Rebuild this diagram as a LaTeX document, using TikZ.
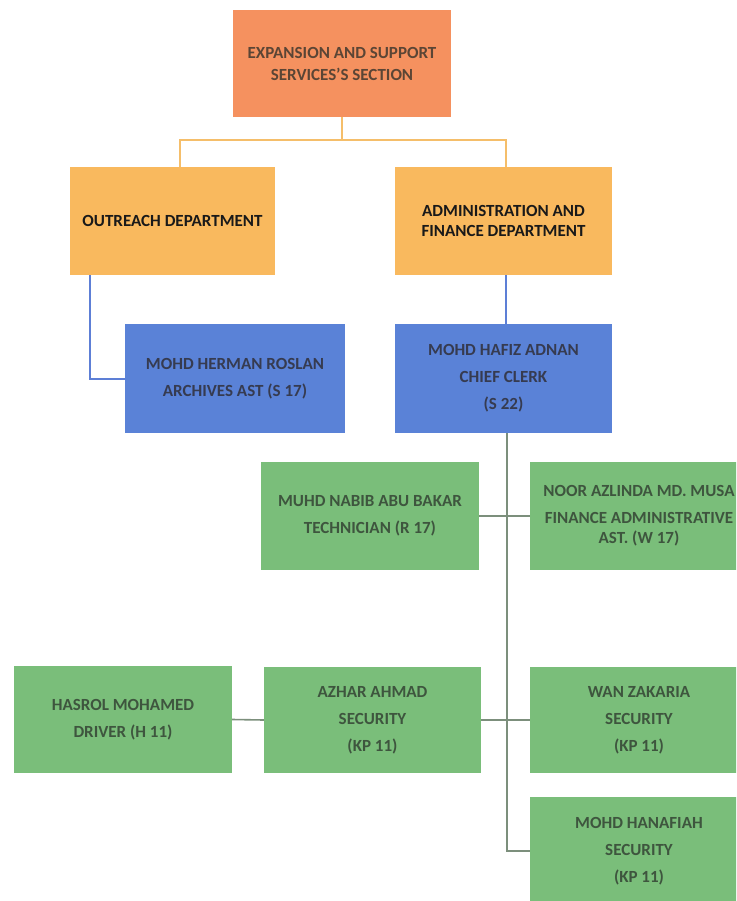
\documentclass[tikz,border=0pt]{standalone}
\usepackage{fontspec}
\setmainfont{Carlito}
\usetikzlibrary{calc}
\definecolor{secfill}{HTML}{F5915F}
\definecolor{depfill}{HTML}{F9B95E}
\definecolor{bluefill}{HTML}{5A82D7}
\definecolor{greenfill}{HTML}{7ABE7A}
\definecolor{orangeline}{HTML}{F5BE6A}
\definecolor{blueline}{HTML}{5D7FD6}
\definecolor{greenline}{HTML}{7C8F7C}
\definecolor{sectext}{HTML}{5B4535}
\definecolor{bluetext}{HTML}{363B50}
\definecolor{greentext}{HTML}{3E553E}
\tikzset{
  box/.style={rectangle, align=center, inner sep=2pt, font=\bfseries},
  secbox/.style={box, fill=secfill, text=sectext, minimum width=218pt, minimum height=107pt, font=\bfseries\fontsize{17}{22}\selectfont},
  depbox/.style={box, fill=depfill, text=black!90, minimum height=108pt, font=\bfseries\fontsize{17}{20}\selectfont},
  staffbox/.style={box, fill=bluefill, text=bluetext, minimum height=109pt, font=\bfseries\fontsize{17}{27}\selectfont},
  crewbox/.style={box, fill=greenfill, text=greentext, minimum width=218pt, minimum height=107pt, font=\bfseries\fontsize{17}{27}\selectfont},
  orangelink/.style={draw=orangeline, line width=2pt},
  bluelink/.style={draw=blueline, line width=2pt},
  greenlink/.style={draw=greenline, line width=1.6pt}
}
\begin{document}
\begin{tikzpicture}[x=1pt,y=1pt]
\clip (0,-901) rectangle (736,0);
\fill[white] (0,-901) rectangle (736,0);

% section and departments
\node[secbox] (sec) at (342,-63.5) {EXPANSION AND SUPPORT\\SERVICES'S SECTION};
\node[depbox, minimum width=205pt] (out) at (172.5,-221) {OUTREACH DEPARTMENT};
\node[depbox, minimum width=217pt] (adm) at (503.5,-221) {ADMINISTRATION AND\\FINANCE DEPARTMENT};

% officers
\node[staffbox, minimum width=220pt] (herman) at (235,-378.5) {MOHD HERMAN ROSLAN\\ARCHIVES AST (S 17)};
\node[staffbox, minimum width=217pt] (hafiz) at (503.5,-378.5) {MOHD HAFIZ ADNAN\\CHIEF CLERK\\(S 22)};

% support staff
\node[crewbox, minimum height=108pt] (nabib) at (370,-516) {MUHD NABIB ABU BAKAR\\TECHNICIAN (R 17)};
\node[crewbox, minimum height=108pt] (noor) at (639,-516) {NOOR AZLINDA MD. MUSA\\FINANCE ADMINISTRATIVE\\[-7pt]AST. (W 17)};
\node[crewbox] (hasrol) at (123,-719.5) {HASROL MOHAMED\\DRIVER (H 11)};
\node[crewbox, minimum width=217pt, minimum height=106pt] (azhar) at (372.5,-720) {AZHAR AHMAD\\SECURITY\\(KP 11)};
\node[crewbox, minimum height=106pt] (wan) at (639,-720) {WAN ZAKARIA\\SECURITY\\(KP 11)};
\node[crewbox, minimum height=108pt] (hanafiah) at (639,-851) {MOHD HANAFIAH\\SECURITY\\(KP 11)};

% section to departments
\coordinate (split) at (342,-140);
\draw[orangelink] (sec.south) -- (split);
\draw[orangelink] (split) -| ($(out.north)+(7.5,0)$);
\draw[orangelink] (split) -| ($(adm.north)+(2.5,0)$);

% departments to officers
\draw[bluelink] ($(out.south west)+(20,0)$) |- (herman.west);
\draw[bluelink] ($(adm.south)+(2.5,0)$) -- ($(hafiz.north)+(2.5,0)$);

% chief clerk to support staff
\draw[greenlink] ($(hafiz.south)+(3.5,0)$) |- (hanafiah.west);
\draw[greenlink] (nabib.east) -- (noor.west);
\draw[greenlink] (azhar.east) -- (wan.west);
\draw[greenlink] (hasrol.east) -- (azhar.west);
\end{tikzpicture}
\end{document}
